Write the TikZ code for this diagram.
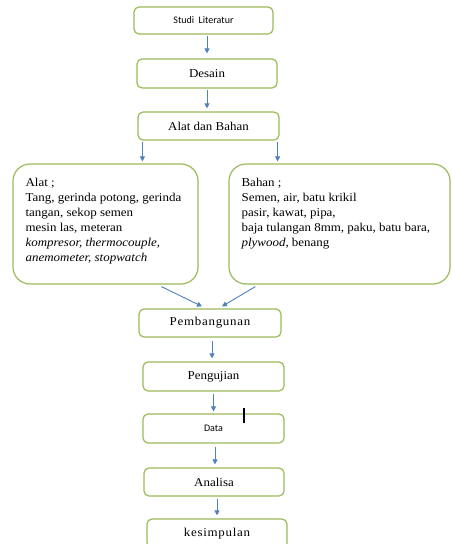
\documentclass[tikz,border=0pt]{standalone}
\usepackage{fontspec}
\setmainfont[FakeStretch=1.08]{Liberation Serif}
\newfontfamily\calfont{Carlito}
\newfontfamily\widefont[FakeStretch=1.08,LetterSpace=6]{Liberation Serif}
\usetikzlibrary{arrows.meta,calc}
\definecolor{boxgreen}{HTML}{9BBB59}
\definecolor{arrblue}{HTML}{4F81BD}
\tikzset{
  stepbox/.style={draw=boxgreen, line width=1.2pt, rounded corners=5pt, inner sep=0pt, font=\fontsize{12}{14}\selectfont},
  bigbox/.style={draw=boxgreen, line width=1.2pt, rounded corners=17pt, inner sep=0pt},
  listtext/.style={anchor=north west, align=left, inner sep=0pt, font=\fontsize{12}{15}\selectfont},
  flow/.style={draw=arrblue, line width=0.9pt, -{Triangle[length=5pt,width=5pt]}}
}
\begin{document}
\begin{tikzpicture}[x=1pt,y=-1pt]
\useasboundingbox (0,0) rectangle (451,544);
\clip (0,0) rectangle (451,544);
\fill[white] (0,0) rectangle (451,544);

\node[stepbox, minimum width=139pt, minimum height=27pt, font=\calfont\fontsize{10}{12}\selectfont] (studi) at (203.5,20.5) {Studi\ \ Literatur};
\node[stepbox, minimum width=140pt, minimum height=29pt] (desain) at (207,73.5) {Desain};
\node[stepbox, minimum width=141pt, minimum height=28pt] (alatbahan) at (208.5,126) {Alat dan Bahan};
\node[bigbox, minimum width=185pt, minimum height=120pt] (alat) at (105.5,224) {};
\node[bigbox, minimum width=221pt, minimum height=120pt] (bahan) at (339.5,224) {};
\node[listtext] (alattext) at ($(alat.north west)+(13,15)$) {Alat ;\\Tang, gerinda potong, gerinda\\tangan, sekop semen\\mesin las, meteran\\\textit{kompresor, thermocouple,}\\\textit{anemometer, stopwatch}};
\node[listtext] (bahantext) at ($(bahan.north west)+(13,15)$) {Bahan ;\\Semen, air, batu krikil\\pasir, kawat, pipa,\\baja tulangan 8mm, paku, batu bara,\\\textit{plywood}, benang};
\node[stepbox, minimum width=142pt, minimum height=28pt, font=\widefont\fontsize{12}{14}\selectfont] (pemb) at (210,323) {Pembangunan};
\node[stepbox, minimum width=141pt, minimum height=29pt] (uji) at (213.5,376.5) {Pengujian};
\node[stepbox, minimum width=141pt, minimum height=29pt, font=\calfont\fontsize{10}{12}\selectfont] (data) at (213.5,428.5) {Data};
\node[stepbox, minimum width=140pt, minimum height=28pt] (analisa) at (214,482) {Analisa};
\node[stepbox, minimum width=140pt, minimum height=29pt, font=\widefont\fontsize{12}{14}\selectfont] (kesimpulan) at (217,533.5) {kesimpulan};

\coordinate (ab1) at ($(alatbahan.south west)+(5,0)$);
\coordinate (ab2) at ($(alatbahan.south east)+(-2,0)$);
\coordinate (pu) at ($(pemb.south)+(2,0)$);
\coordinate (da) at ($(data.south)+(1.5,0)$);
\coordinate (ak) at ($(analisa.south)+(3,0)$);

\draw[flow, shorten <=1pt, shorten >=5pt] (studi.south -| desain.north) -- (desain.north);
\draw[flow, shorten <=1pt, shorten >=3pt] (desain.south) -- (desain.south |- alatbahan.north);
\draw[flow, shorten <=1pt, shorten >=2pt] (ab1) -- (ab1 |- alat.north);
\draw[flow, shorten <=1pt, shorten >=2pt] (ab2) -- (ab2 |- bahan.north);
\draw[flow] ($(alat.south west)+(149,2)$) -- ($(pemb.north)+(-8,-2)$);
\draw[flow] ($(bahan.south west)+(27,2)$) -- ($(pemb.north)+(12,-2)$);
\draw[flow, shorten <=3pt, shorten >=3pt] (pu) -- (pu |- uji.north);
\draw[flow, shorten <=2pt, shorten >=2pt] (uji.south) -- (uji.south |- data.north);
\draw[flow, shorten <=3pt, shorten >=3pt] (da) -- (da |- analisa.north);
\draw[flow, shorten <=2pt, shorten >=3pt] (ak) -- (ak |- kesimpulan.north);

\draw[black, line width=1.8pt] (244,408) -- (244,423);
\end{tikzpicture}
\end{document}
